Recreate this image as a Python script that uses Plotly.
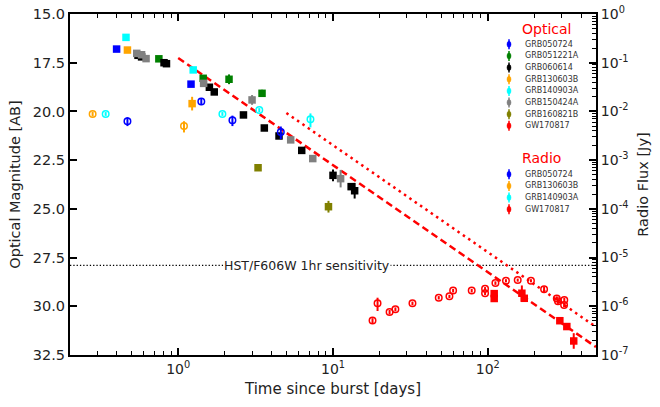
import plotly.graph_objects as go
import math

# ---------------- data ----------------
# Optical (mag, AB) : time [days], magnitude, error
opt_050724_t = [0.40, 1.21]
opt_050724_m = [16.8, 18.6]
opt_050724_e = [0.12, 0.12]

opt_051221A_t = [0.75, 1.45, 2.13, 3.48]
opt_051221A_m = [17.3, 18.3, 18.35, 19.07]
opt_051221A_e = [0.12, 0.12, 0.25, 0.18]

opt_060614_t = [0.55, 0.58, 0.81, 0.84, 1.59, 1.71, 2.64, 3.6, 4.48, 6.28, 10.0, 13.1, 13.8]
opt_060614_m = [17.12, 17.2, 17.5, 17.55, 18.76, 19.0, 20.18, 20.85, 21.26, 22.0, 23.28, 23.86, 24.07]
opt_060614_e = [0.1, 0.1, 0.1, 0.1, 0.1, 0.1, 0.1, 0.1, 0.1, 0.1, 0.3, 0.15, 0.4]

opt_130603B_t = [0.47, 1.23]
opt_130603B_m = [16.85, 19.6]
opt_130603B_e = [0.12, 0.35]

opt_140903A_t = [0.46, 1.25]
opt_140903A_m = [16.2, 17.87]
opt_140903A_e = [0.1, 0.1]

opt_150424A_t = [0.54, 0.58, 0.62, 1.46, 3.0, 5.33, 7.4, 11.2]
opt_150424A_m = [17.02, 17.09, 17.29, 18.56, 19.41, 21.46, 22.42, 23.45]
opt_150424A_e = [0.1, 0.1, 0.1, 0.1, 0.25, 0.1, 0.1, 0.45]

opt_160821B_t = [3.28, 9.35]
opt_160821B_m = [22.89, 24.89]
opt_160821B_e = [0.1, 0.3]

opt_GW170817_t = [110, 110, 166, 172, 292, 324, 359]
opt_GW170817_m = [29.35, 29.6, 29.33, 29.59, 30.74, 31.04, 31.78]
opt_GW170817_e = [0.15, 0.15, 0.4, 0.15, 0.12, 0.12, 0.4]

# Radio (Jy)
rad_050724_t = [0.47, 1.41, 2.24, 4.6]
rad_050724_f = [6.3e-3, 1.6e-2, 6.6e-3, 3.8e-3]
rad_050724_e = [1.3e-3, 2.5e-3, 1.6e-3, 1.1e-3]

rad_130603B_t = [0.28, 1.09]
rad_130603B_f = [8.9e-3, 5.0e-3]
rad_130603B_e = [1.0e-3, 1.3e-3]

rad_140903A_t = [0.34, 1.93, 3.34, 7.15]
rad_140903A_f = [8.9e-3, 8.9e-3, 1.07e-2, 6.9e-3]
rad_140903A_e = [0.8e-3, 0.8e-3, 1.0e-3, 2.2e-3]

rad_GW170817_t = [18.0, 19.4, 23.2, 25.3, 32.6, 48.2, 56.5, 59.7, 78.7, 96, 96,
                  112, 131, 156, 190, 231, 279, 284, 312, 311]
rad_GW170817_f = [5.1e-7, 1.15e-6, 7.6e-7, 8.7e-7, 1.15e-6, 1.5e-6, 1.6e-6, 2.1e-6, 2.1e-6, 2.3e-6, 1.85e-6,
                  3.0e-6, 3.35e-6, 3.45e-6, 3.35e-6, 2.25e-6, 1.45e-6, 1.27e-6, 1.35e-6, 1.06e-6]
rad_GW170817_e = [0.6e-7, 3.5e-7, 0.8e-7, 0.8e-7, 1.0e-7, 1.2e-7, 1.2e-7, 1.8e-7, 1.8e-7, 1.8e-7, 1.5e-7,
                  2.5e-7, 2.5e-7, 2.5e-7, 2.5e-7, 3.0e-7, 1.5e-7, 1.5e-7, 1.5e-7, 1.0e-7]

# model lines (optical)
dashed_t = [1.0, 500.0]
dashed_m = [17.26, 32.09]
dotted_t = [5.0, 500.0]
dotted_m = [20.08, 31.06]

hst_limit = 27.9
hst_t = [0.2, 500.0]
hst_label_t = 6.84

optical_names = ["GRB050724", "GRB051221A", "GRB060614", "GRB130603B",
                 "GRB140903A", "GRB150424A", "GRB160821B", "GW170817"]
radio_names = ["GRB050724", "GRB130603B", "GRB140903A", "GW170817"]

C = {"GRB050724": "#0000ff", "GRB051221A": "#008000", "GRB060614": "#000000",
     "GRB130603B": "#ffa500", "GRB140903A": "#00ffff", "GRB150424A": "#808080",
     "GRB160821B": "#808000", "GW170817": "#ff0000"}

optical = {
    "GRB050724": (opt_050724_t, opt_050724_m, opt_050724_e),
    "GRB051221A": (opt_051221A_t, opt_051221A_m, opt_051221A_e),
    "GRB060614": (opt_060614_t, opt_060614_m, opt_060614_e),
    "GRB130603B": (opt_130603B_t, opt_130603B_m, opt_130603B_e),
    "GRB140903A": (opt_140903A_t, opt_140903A_m, opt_140903A_e),
    "GRB150424A": (opt_150424A_t, opt_150424A_m, opt_150424A_e),
    "GRB160821B": (opt_160821B_t, opt_160821B_m, opt_160821B_e),
    "GW170817": (opt_GW170817_t, opt_GW170817_m, opt_GW170817_e),
}
radio = {
    "GRB050724": (rad_050724_t, rad_050724_f, rad_050724_e),
    "GRB130603B": (rad_130603B_t, rad_130603B_f, rad_130603B_e),
    "GRB140903A": (rad_140903A_t, rad_140903A_f, rad_140903A_e),
    "GW170817": (rad_GW170817_t, rad_GW170817_f, rad_GW170817_e),
}

# ---------------- figure ----------------
W, H = 660, 407
L, R, T, B = 70, 64, 14, 52
PW, PH = W - L - R, H - T - B
FONT = "DejaVu Sans"

fig = go.Figure()

# HST line
fig.add_trace(go.Scatter(x=hst_t, y=[hst_limit, hst_limit], mode="lines",
                         line=dict(color="black", width=1.3, dash="1.3px,2px"),
                         showlegend=False, hoverinfo="skip", yaxis="y"))

# model lines
fig.add_trace(go.Scatter(x=dashed_t, y=dashed_m, mode="lines",
                         line=dict(color="#ff0000", width=2.5, dash="7px,4px"),
                         showlegend=False, yaxis="y"))
fig.add_trace(go.Scatter(x=dotted_t, y=dotted_m, mode="lines",
                         line=dict(color="#ff0000", width=2.5, dash="2.5px,4px"),
                         showlegend=False, yaxis="y"))

for name, (t, f, e) in radio.items():
    fig.add_trace(go.Scatter(
        x=t, y=f, mode="markers", yaxis="y2", showlegend=False,
        marker=dict(symbol="circle-open", size=6.5, color=C[name], line=dict(width=1.5, color=C[name])),
        error_y=dict(type="data", array=e, visible=True, color=C[name], thickness=2, width=0)))

for name, (t, m, e) in optical.items():
    fig.add_trace(go.Scatter(
        x=t, y=m, mode="markers", yaxis="y", showlegend=False,
        marker=dict(symbol="square", size=7.5, color=C[name], line=dict(width=0)),
        error_y=dict(type="data", array=e, visible=True, color=C[name], thickness=2, width=0)))

# annotations / legends
def px2paper(px, py):
    return (px - L) / PW, 1 - (py - T) / PH

ann = []
shapes = []
ann.append(dict(x=math.log10(hst_label_t), y=hst_limit, xref="x", yref="y",
                text="HST/F606W 1hr sensitivity",
                showarrow=False, font=dict(family=FONT, size=12.5, color="#222"),
                bgcolor="white", borderpad=0, xanchor="center", yanchor="middle"))

def add_legend(title, tx, ty, names, y0):
    fx, fy = px2paper(tx, ty)
    ann.append(dict(x=fx, y=fy, xref="paper", yref="paper", text=title, showarrow=False,
                    font=dict(family=FONT, size=14, color="#ff0000"), xanchor="center", yanchor="middle"))
    for i, nm in enumerate(names):
        py = y0 + i * 11.65
        lx, ly = px2paper(523, py)
        ann.append(dict(x=lx, y=ly, xref="paper", yref="paper", text=nm, showarrow=False,
                        font=dict(family=FONT, size=8, color="#333"), xanchor="left", yanchor="middle"))
        a, b = px2paper(509, py - 5)
        c, d = px2paper(509, py + 5)
        shapes.append(dict(type="line", xref="paper", yref="paper", x0=a, y0=b, x1=c, y1=d,
                           line=dict(color=C[nm], width=1.5)))
        a, b = px2paper(507, py - 3)
        c, d = px2paper(511, py + 3)
        shapes.append(dict(type="circle", xref="paper", yref="paper", x0=a, y0=b, x1=c, y1=d,
                           fillcolor=C[nm], line=dict(color=C[nm], width=0.5)))

add_legend("Optical", 546, 29.5, optical_names, 44.3)
add_legend("Radio", 541, 157.5, radio_names, 174.3)

minor_x = [k * 10 ** p for p in range(-1, 3) for k in range(2, 10)]
minor_x = [v for v in minor_x if 0.2 <= v <= 500]
minor_y2 = [k * 10 ** p for p in range(-7, 0) for k in range(2, 10)]

fig.update_layout(
    width=W, height=H, margin=dict(l=L, r=R, t=T, b=B, autoexpand=False),
    paper_bgcolor="white", plot_bgcolor="white",
    font=dict(family=FONT, size=14, color="#222"),
    showlegend=False,
    xaxis=dict(type="log", range=[math.log10(0.2), math.log10(500)], automargin=False,
               tickvals=[1, 10, 100], ticktext=["10<sup>0</sup>", "10<sup>1</sup>", "10<sup>2</sup>"],
               ticks="inside", ticklen=7, tickwidth=1.5, tickcolor="black",
               minor=dict(tickvals=minor_x, ticks="inside", ticklen=4, tickwidth=1, tickcolor="black", showgrid=False),
               showline=True, linecolor="black", linewidth=2, mirror="ticks",
               showgrid=False, zeroline=False,
               title=dict(text="Time since burst [days]", font=dict(size=15), standoff=8),
               tickfont=dict(size=14)),
    yaxis=dict(range=[32.5, 15], tickvals=[15, 17.5, 20, 22.5, 25, 27.5, 30, 32.5], automargin=False,
               ticktext=["15.0", "17.5", "20.0", "22.5", "25.0", "27.5", "30.0", "32.5"],
               ticks="inside", ticklen=7, tickwidth=1.5, tickcolor="black",
               showline=True, linecolor="black", linewidth=2,
               showgrid=False, zeroline=False,
               title=dict(text="Optical Magnitude [AB]", font=dict(size=14.5), standoff=9),
               tickfont=dict(size=14.5)),
    yaxis2=dict(type="log", range=[-7, 0], overlaying="y", side="right", automargin=False,
                tickvals=[10 ** p for p in range(-7, 1)],
                ticktext=["10<sup>%d</sup>" % p for p in range(-7, 1)],
                ticks="inside", ticklen=7, tickwidth=1.5, tickcolor="black",
                minor=dict(tickvals=minor_y2, ticks="inside", ticklen=4, tickwidth=1, tickcolor="black", showgrid=False),
                showline=True, linecolor="black", linewidth=2,
                showgrid=False, zeroline=False,
                title=dict(text="Radio Flux [Jy]", font=dict(size=14.5), standoff=10),
                tickfont=dict(size=14)),
    annotations=ann, shapes=shapes,
)

fig.write_html("out.html", config={"displayModeBar": False},
               post_script="document.body.style.margin='0px';")
